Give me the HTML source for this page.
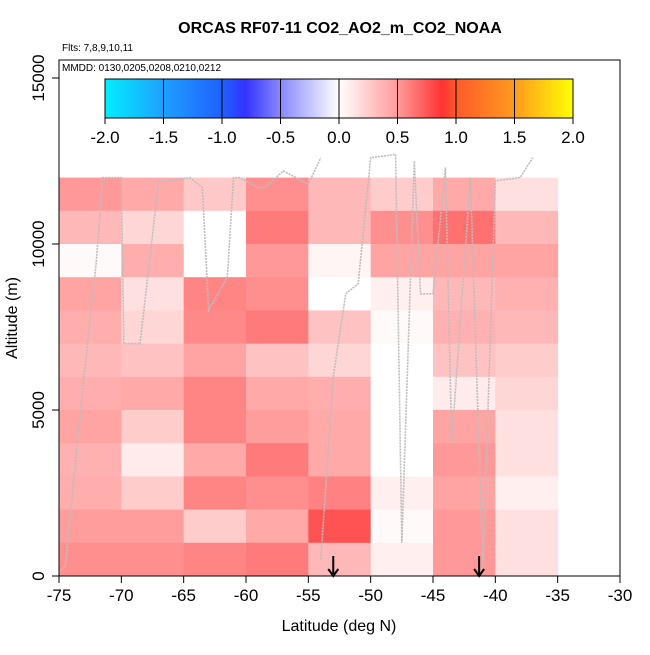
<!DOCTYPE html>
<html><head><meta charset="utf-8"><style>
body{margin:0;background:#fff;}
svg text{font-family:"Liberation Sans",sans-serif;}
</style></head><body>
<svg id="chart" width="650" height="650" xmlns="http://www.w3.org/2000/svg">
<defs>
<linearGradient id="cb" x1="0" x2="1" y1="0" y2="0">
<stop offset="0" stop-color="#00eeff"/>
<stop offset="0.125" stop-color="#1ea0ff"/>
<stop offset="0.25" stop-color="#2060ff"/>
<stop offset="0.3" stop-color="#3333ff"/>
<stop offset="0.375" stop-color="#8888ff"/>
<stop offset="0.5" stop-color="#ffffff"/>
<stop offset="0.625" stop-color="#ff9a9a"/>
<stop offset="0.72" stop-color="#ff3333"/>
<stop offset="0.75" stop-color="#ff5a2a"/>
<stop offset="0.875" stop-color="#ff9a20"/>
<stop offset="1" stop-color="#ffff00"/>
</linearGradient>
</defs>
<text x="340" y="33" text-anchor="middle" font-size="16" font-weight="bold">ORCAS RF07-11 CO2_AO2_m_CO2_NOAA</text>
<text x="62" y="51" font-size="10">Flts: 7,8,9,10,11</text>
<g id="cells"></g>
<g id="tracks" fill="none" stroke="#bdbdbd" stroke-width="1.6"></g>
<rect x="59" y="60" width="561" height="516" fill="none" stroke="#000"/>
<text x="62" y="71" font-size="10">MMDD: 0130,0205,0208,0210,0212</text>
<rect x="105" y="79" width="468" height="39" fill="url(#cb)" stroke="#000"/>
<g id="cbticks"></g>
<g id="axes"></g>
<text x="339" y="631" text-anchor="middle" font-size="16">Latitude (deg N)</text>
<text transform="translate(17,318) rotate(-90)" text-anchor="middle" font-size="16">Altitude (m)</text>
<g id="arrows"></g>
</svg>
<script>
const latEdges = [-75,-70,-65,-60,-55,-50,-45,-40];
const altBins = [11000,10000,9000,8000,7000,6000,5000,4000,3000,2000,1000,0];
const row11k = [0.5,0.42,0.27,0.55,0.35,0.25,0.42,0.15];
const row10k = [0.35,0.2,0,0.65,0.35,0.55,0.7,0.35];
const row9k = [0.03,0.4,0,0.5,0.05,0.45,0.45,0.45];
const row8k = [0.45,0.15,0.6,0.55,0,0.08,0.35,0.38];
const row7k = [0.4,0.2,0.58,0.65,0.3,0.03,0.38,0.35];
const row6k = [0.35,0.3,0.45,0.3,0.2,0,0.3,0.25];
const row5k = [0.4,0.42,0.6,0.42,0.4,0,0.1,0.2];
const row4k = [0.45,0.25,0.6,0.48,0.42,0,0.45,0.15];
const row3k = [0.38,0.1,0.42,0.65,0.42,0,0.5,0.15];
const row2k = [0.4,0.25,0.6,0.55,0.62,0.08,0.45,0.08];
const row1k = [0.48,0.48,0.25,0.42,0.85,0.03,0.5,0.15];
const row0k = [0.55,0.55,0.6,0.65,0.35,0.08,0.5,0.15];
const rows = [row11k,row10k,row9k,row8k,row7k,row6k,row5k,row4k,row3k,row2k,row1k,row0k];
const xTicks = [-75,-70,-65,-60,-55,-50,-45,-40,-35,-30];
const yTicks = [0,5000,10000,15000];
const cbTicks = [-2,-1.5,-1,-0.5,0,0.5,1,1.5,2];
const arrowLats = [-53,-41.3];
const track1Lat = [-75,-74.5,-73,-72,-71.5,-70,-69.8,-68.5,-67,-66,-64.5,-63.5,-63,-61.5,-61,-60.5,-59,-58.5,-57,-55,-54];
const track1Alt = [100,300,6000,9500,12000,12000,7000,7000,11900,11900,12000,11700,8000,9000,12000,12000,11700,11700,12200,11800,12600];
const track2Lat = [-54,-53,-52,-51,-50,-48,-47.5,-46.5,-46,-45,-44,-43.5,-42,-41,-40,-38,-37];
const track2Alt = [500,6000,8500,8800,12600,12700,1000,12500,8500,8500,12300,4000,12000,200,11900,12000,12600];

const X = v => 59 + (v + 75) * 561 / 45;
const Y = v => 576 - v * 498 / 15000;
const CB = v => 105 + (v + 2) * 468 / 4;
const NS = "http://www.w3.org/2000/svg";
const mk = (t, a) => { const e = document.createElementNS(NS, t); for (const k in a) e.setAttribute(k, a[k]); return e; };
function color(v){ const g = Math.round(255 - 204 * Math.max(0, Math.min(1, v))); return `rgb(255,${g},${g})`; }

const cells = document.getElementById('cells');
rows.forEach((r, i) => r.forEach((v, j) => {
  const x0 = X(latEdges[j]), x1 = X(latEdges[j] + 5), y1 = Y(altBins[i]), y0 = Y(altBins[i] + 1000);
  const el = mk('rect', {x: x0, y: y0, width: x1 - x0 + 0.5, height: y1 - y0 + 0.5, fill: color(v)});
  
  
  cells.appendChild(el);
}));

const tracks = document.getElementById('tracks');
[[track1Lat, track1Alt], [track2Lat, track2Alt]].forEach(([la, al]) => {
  const el = mk('polyline', {points: la.map((v, i) => X(v) + ',' + Y(al[i])).join(' '), 'stroke-dasharray': '2,1'});
  
  
  tracks.appendChild(el);
});

const cbt = document.getElementById('cbticks');
cbTicks.forEach(v => {
  const x = CB(v);
  const l = mk('line', {x1: x, x2: x, y1: 79, y2: 124, stroke: '#000'});
  
  
  cbt.appendChild(l);
  const t = mk('text', {x: x, y: 143, 'text-anchor': 'middle', 'font-size': 17});
  
  
  t.textContent = v.toFixed(1);
  cbt.appendChild(t);
});

const axes = document.getElementById('axes');
xTicks.forEach(v => {
  const x = X(v);
  const l = mk('line', {x1: x, x2: x, y1: 576, y2: 583, stroke: '#000'});
  
  
  axes.appendChild(l);
  const t = mk('text', {x: x, y: 601, 'text-anchor': 'middle', 'font-size': 17});
  
  
  t.textContent = v;
  axes.appendChild(t);
});
yTicks.forEach(v => {
  const y = Y(v);
  const l = mk('line', {x1: 52, x2: 59, y1: y, y2: y, stroke: '#000'});
  
  
  axes.appendChild(l);
  const t = mk('text', {transform: `translate(44,${y}) rotate(-90)`, 'text-anchor': 'middle', 'font-size': 17});
  
  
  t.textContent = v;
  axes.appendChild(t);
});

const arrows = document.getElementById('arrows');
arrowLats.forEach(v => {
  const x = X(v);
  const p = mk('path', {d: `M${x},556 L${x},576 M${x-5},569 L${x},576 L${x+5},569`, stroke: '#000', 'stroke-width': 2, fill: 'none'});
  
  
  arrows.appendChild(p);
});
</script>
</body></html>
